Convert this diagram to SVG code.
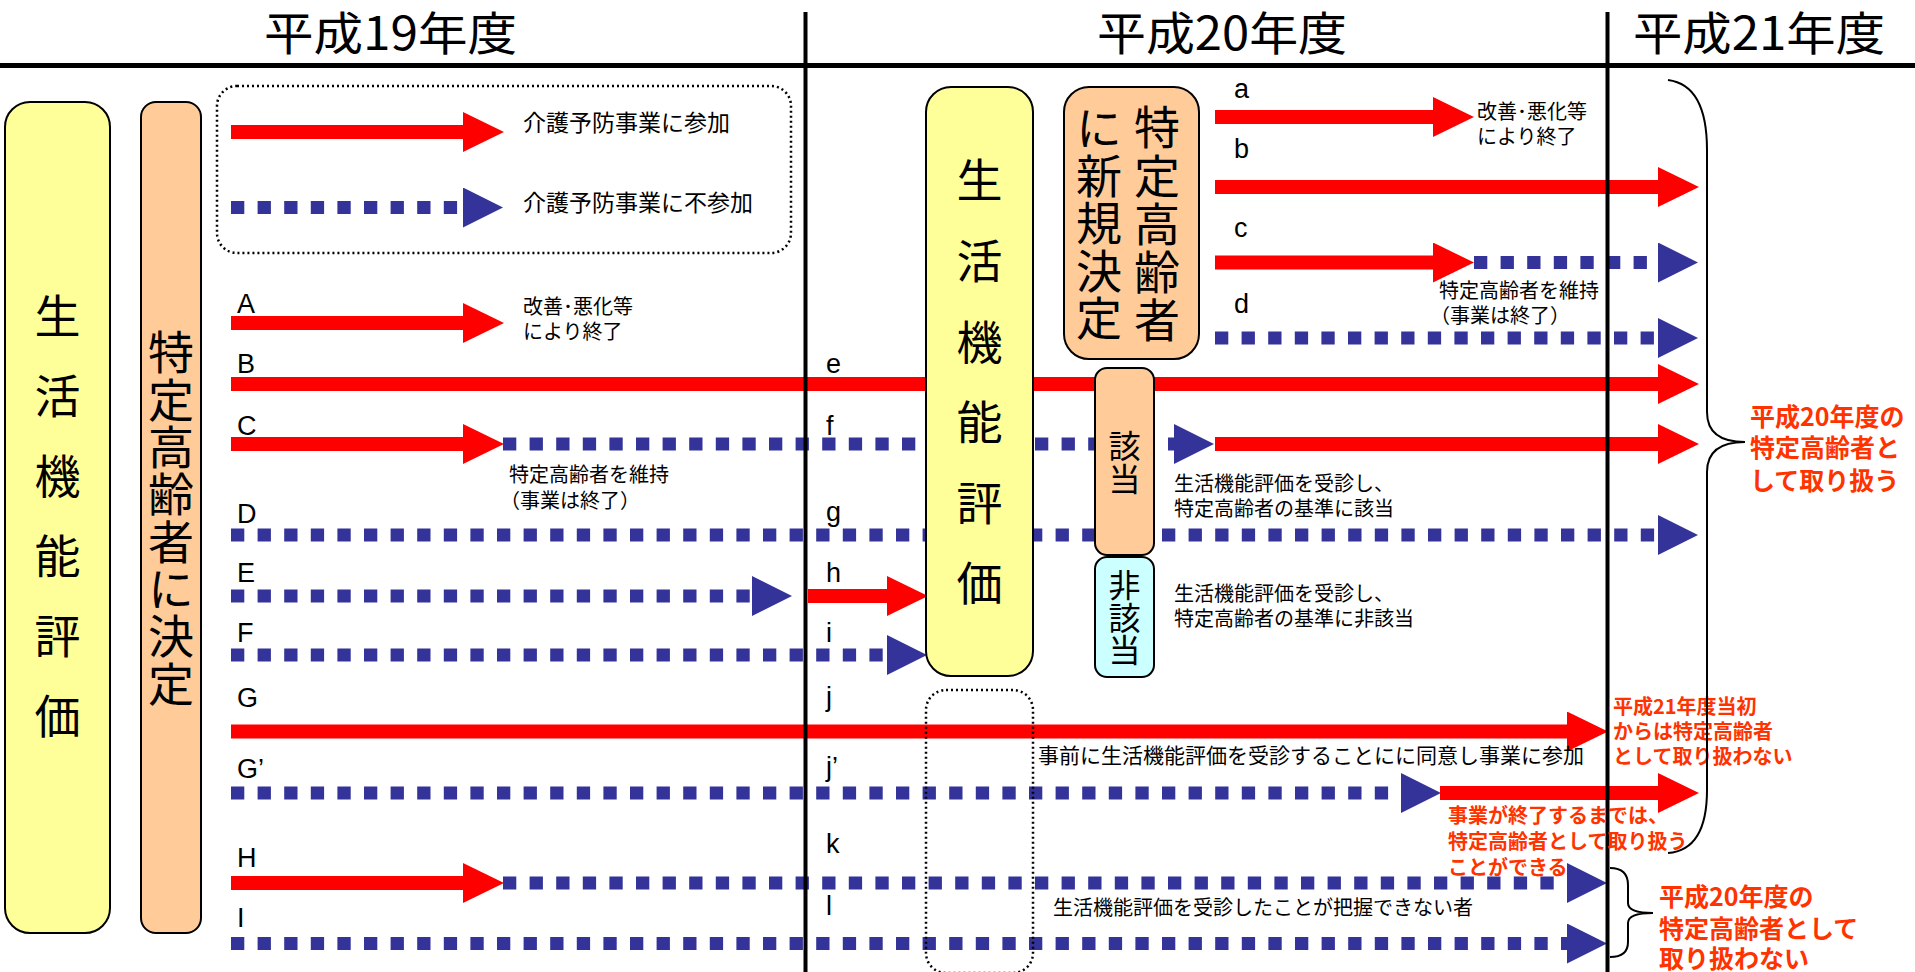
<svg xmlns="http://www.w3.org/2000/svg" width="1915" height="972" viewBox="0 0 1915 972">
<style>
text{font-family:"Noto Sans CJK JP","Noto Sans",sans-serif;fill:#000}
.hd{font-size:46px}
.v{font-size:46px;writing-mode:vertical-rl}
.vm{font-size:32px;writing-mode:vertical-rl}
.lt{font-family:"Liberation Sans",Arial,sans-serif;font-size:27px}
.s{font-size:20px}
.lg{font-size:23px}
.rd{fill:#FF3300;font-weight:bold}
.r{stroke:#FF0000;stroke-width:14;fill:none}
.b{stroke:#333399;stroke-width:13;stroke-dasharray:13.3 13.3;fill:none}
.grid{stroke:#000;fill:none}
.dot{fill:none;stroke:#000;stroke-width:2.5;stroke-dasharray:2 3}
.yel{fill:#FFFF99;stroke:#000;stroke-width:2}
.org{fill:#FFCC99;stroke:#000;stroke-width:2}
.cyn{fill:#CCFFFF;stroke:#000;stroke-width:2}
.br{fill:none;stroke:#000;stroke-width:2}
</style>
<defs>
<marker id="rh" markerUnits="userSpaceOnUse" markerWidth="41" markerHeight="40" viewBox="0 0 41 40" refX="1" refY="20" orient="auto"><path d="M0,0 L41,20 L0,40 z" fill="#FF0000"/></marker>
<marker id="bh" markerUnits="userSpaceOnUse" markerWidth="40" markerHeight="40" viewBox="0 0 40 40" refX="0" refY="20" orient="auto"><path d="M0,0 L40,20 L0,40 z" fill="#333399"/></marker>
</defs>
<rect width="1915" height="972" fill="#fff"/>

<g id="connectors">
<line class="r" x1="231" y1="132" x2="464" y2="132" marker-end="url(#rh)"/>
<line class="b" x1="231" y1="207.5" x2="463" y2="207.5" marker-end="url(#bh)"/>
<line class="r" x1="231" y1="323" x2="464" y2="323" marker-end="url(#rh)"/>
<line class="r" x1="231" y1="384" x2="1659" y2="384" marker-end="url(#rh)"/>
<line class="r" x1="231" y1="444" x2="464" y2="444" marker-end="url(#rh)"/>
<line class="b" x1="503" y1="444" x2="1174" y2="444" marker-end="url(#bh)"/>
<line class="r" x1="1215" y1="444" x2="1659" y2="444" marker-end="url(#rh)"/>
<line class="b" x1="231" y1="535" x2="1658" y2="535" marker-end="url(#bh)"/>
<line class="b" x1="231" y1="596" x2="752" y2="596" marker-end="url(#bh)"/>
<line class="r" x1="808" y1="596" x2="888" y2="596" marker-end="url(#rh)"/>
<line class="b" x1="231" y1="655" x2="887" y2="655" marker-end="url(#bh)"/>
<line class="r" x1="231" y1="731.5" x2="1568" y2="731.5" marker-end="url(#rh)"/>
<line class="b" x1="231" y1="793" x2="1401" y2="793" marker-end="url(#bh)"/>
<line class="r" x1="1440" y1="793" x2="1659" y2="793" marker-end="url(#rh)"/>
<line class="r" x1="231" y1="883" x2="464" y2="883" marker-end="url(#rh)"/>
<line class="b" x1="503" y1="883" x2="1567" y2="883" marker-end="url(#bh)"/>
<line class="b" x1="231" y1="943.5" x2="1567" y2="943.5" marker-end="url(#bh)"/>
<line class="r" x1="1215" y1="117" x2="1434" y2="117" marker-end="url(#rh)"/>
<line class="r" x1="1215" y1="187" x2="1659" y2="187" marker-end="url(#rh)"/>
<line class="r" x1="1215" y1="262.5" x2="1434" y2="262.5" marker-end="url(#rh)"/>
<line class="b" x1="1474" y1="262.5" x2="1658" y2="262.5" marker-end="url(#bh)"/>
<line class="b" x1="1215" y1="338" x2="1658" y2="338" marker-end="url(#bh)"/>
</g>

<g id="grid">
<line class="grid" x1="0" y1="65.5" x2="1915" y2="65.5" stroke-width="5"/>
<line class="grid" x1="805.5" y1="12" x2="805.5" y2="972" stroke-width="4"/>
<line class="grid" x1="1607.5" y1="12" x2="1607.5" y2="972" stroke-width="4"/>
<text class="hd" x="264" y="50" textLength="253" lengthAdjust="spacingAndGlyphs">平成19年度</text>
<text class="hd" x="1097" y="50" textLength="250" lengthAdjust="spacingAndGlyphs">平成20年度</text>
<text class="hd" x="1633" y="50" textLength="252" lengthAdjust="spacingAndGlyphs">平成21年度</text>
</g>

<g id="legend">
<rect class="dot" x="217" y="86" width="574" height="167" rx="20"/>
<text class="lg" x="523" y="131">介護予防事業に参加</text>
<text class="lg" x="523" y="211">介護予防事業に不参加</text>
</g>

<g id="node-eval1">
<rect class="yel" x="5" y="102" width="105" height="831" rx="25"/>
<text class="v" x="57.5" y="293" letter-spacing="34">生活機能評価</text>
</g>

<g id="node-decide1">
<rect class="org" x="141" y="102" width="60" height="831" rx="15"/>
<text class="v" x="171" y="329" letter-spacing="1.3">特定高齢者に決定</text>
</g>

<g id="node-eval2">
<rect class="yel" x="926" y="87" width="107" height="589" rx="25"/>
<text class="v" x="979.5" y="157" letter-spacing="34.6">生活機能評価</text>
</g>

<g id="node-new">
<rect class="org" x="1064" y="87" width="135" height="272" rx="25"/>
<text class="v" x="1157" y="104" letter-spacing="2.25">特定高齢者</text>
<text class="v" x="1099" y="105" letter-spacing="1.5">に新規決定</text>
</g>

<g id="node-gaito">
<rect class="org" x="1095" y="368" width="59" height="187" rx="12"/>
<text class="vm" x="1124.5" y="430" letter-spacing="1">該当</text>
</g>

<g id="node-higaito">
<rect class="cyn" x="1095" y="557" width="59" height="120" rx="12"/>
<text class="vm" x="1124.5" y="569" letter-spacing="0.5">非該当</text>
</g>

<g id="node-consent">
<rect class="dot" x="926" y="690" width="107" height="283" rx="20"/>
</g>

<g id="labels">
<text class="lt" x="237" y="313">A</text>
<text class="lt" x="237" y="373">B</text>
<text class="lt" x="237" y="435">C</text>
<text class="lt" x="237" y="523">D</text>
<text class="lt" x="237" y="582">E</text>
<text class="lt" x="237" y="642">F</text>
<text class="lt" x="237" y="707">G</text>
<text class="lt" x="237" y="778">G’</text>
<text class="lt" x="237" y="867">H</text>
<text class="lt" x="237" y="927">I</text>
<text class="lt" x="1234" y="98">a</text>
<text class="lt" x="1234" y="158">b</text>
<text class="lt" x="1234" y="237">c</text>
<text class="lt" x="1234" y="313">d</text>
<text class="lt" x="826" y="373">e</text>
<text class="lt" x="826" y="435">f</text>
<text class="lt" x="826" y="521">g</text>
<text class="lt" x="826" y="582">h</text>
<text class="lt" x="826" y="642">i</text>
<text class="lt" x="826" y="706">j</text>
<text class="lt" x="826" y="776">j’</text>
<text class="lt" x="826" y="853">k</text>
<text class="lt" x="826" y="915">l</text>

<text class="s" x="523" y="314">改善･悪化等</text>
<text class="s" x="523" y="339">により終了</text>
<text class="s" x="1477" y="119">改善･悪化等</text>
<text class="s" x="1477" y="144">により終了</text>
<text class="s" x="509" y="482">特定高齢者を維持</text>
<text class="s" x="500" y="508">（事業は終了）</text>
<text class="s" x="1439" y="298">特定高齢者を維持</text>
<text class="s" x="1430" y="323">（事業は終了）</text>
<text class="s" x="1174" y="491">生活機能評価を受診し、</text>
<text class="s" x="1174" y="516">特定高齢者の基準に該当</text>
<text class="s" x="1174" y="601">生活機能評価を受診し、</text>
<text class="s" x="1174" y="626">特定高齢者の基準に非該当</text>
<text class="s" x="1038" y="763" style="font-size:21px">事前に生活機能評価を受診することにに同意し事業に参加</text>
<text class="s" x="1053" y="915">生活機能評価を受診したことが把握できない者</text>

<text class="s rd" x="1613" y="714">平成21年度当初</text>
<text class="s rd" x="1613" y="739">からは特定高齢者</text>
<text class="s rd" x="1613" y="764">として取り扱わない</text>
<text class="s rd" x="1448" y="823">事業が終了するまでは、</text>
<text class="s rd" x="1448" y="849">特定高齢者として取り扱う</text>
<text class="s rd" x="1448" y="875">ことができる</text>
<text class="rd" x="1750" y="426" style="font-size:25px">平成20年度の</text>
<text class="rd" x="1750" y="457" style="font-size:25px">特定高齢者と</text>
<text class="rd" x="1750" y="490" style="font-size:25px">して取り扱う</text>
<text class="rd" x="1659" y="906" style="font-size:25px">平成20年度の</text>
<text class="rd" x="1659" y="938" style="font-size:25px">特定高齢者として</text>
<text class="rd" x="1659" y="968" style="font-size:25px">取り扱わない</text>
</g>

<g id="braces">
<path class="br" d="M1668,80 Q1707,85 1707,150 L1707,412 Q1707,442 1745,442 Q1707,442 1707,472 L1707,790 Q1707,850 1668,853"/>
<path class="br" d="M1610,868 Q1628,868 1628,885 L1628,903 Q1628,913 1653,913 Q1628,913 1628,923 L1628,942 Q1628,957 1610,957"/>
</g>
</svg>
